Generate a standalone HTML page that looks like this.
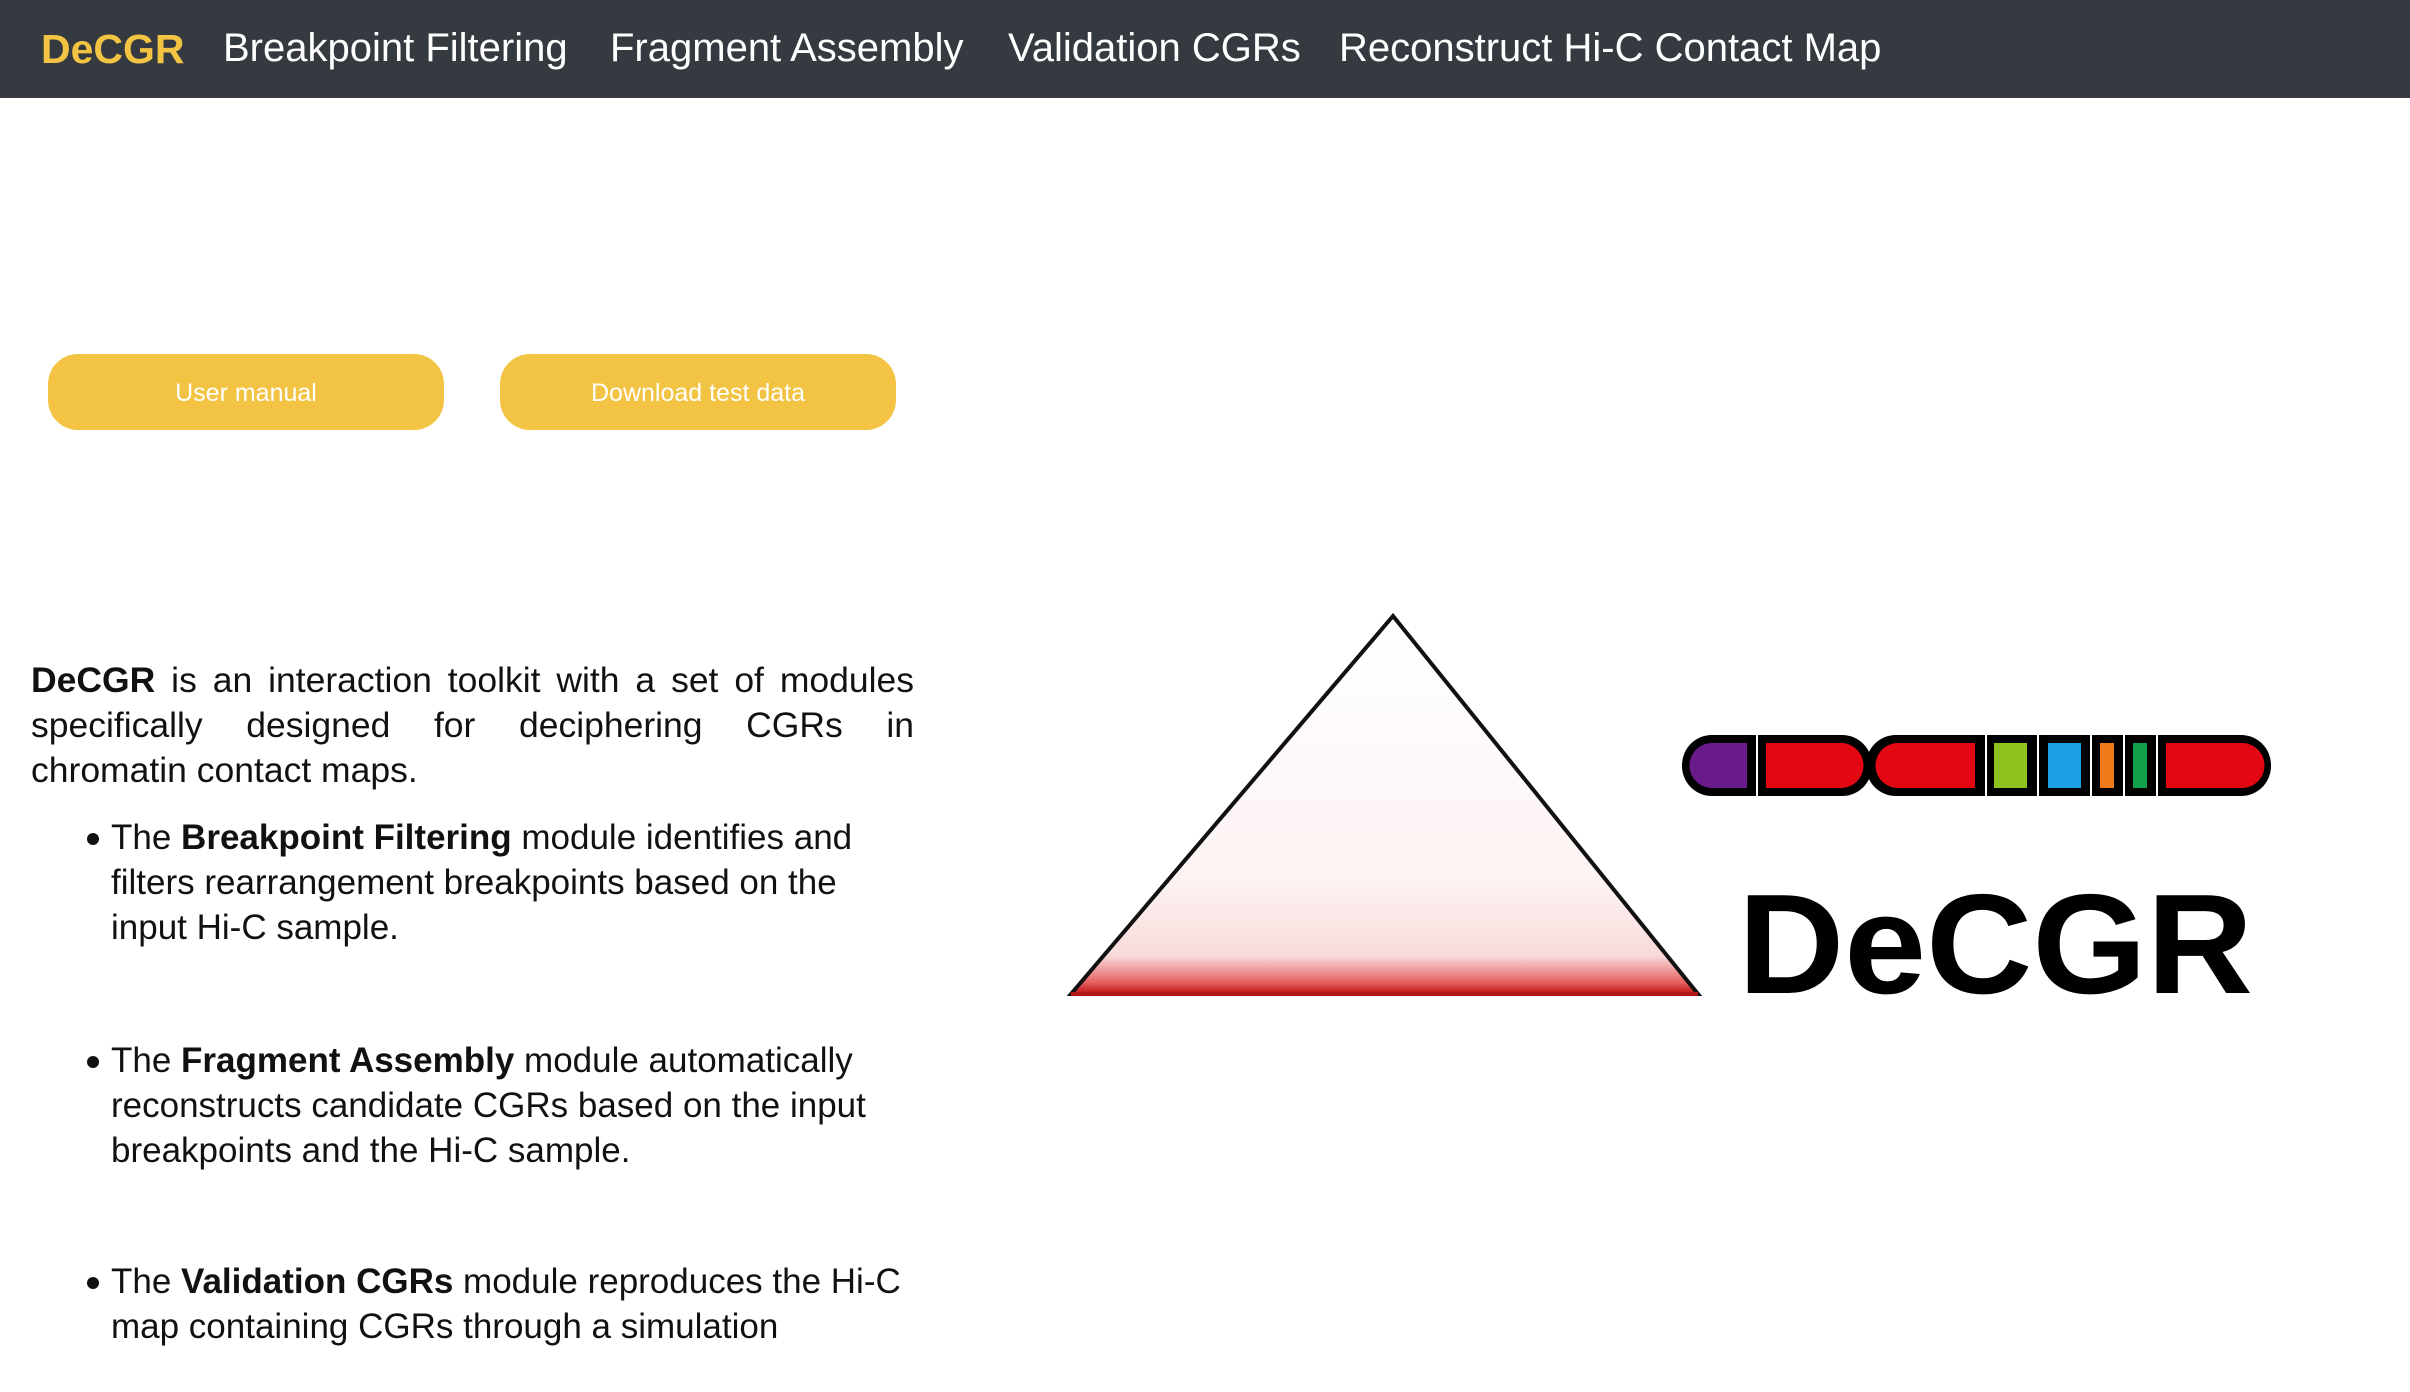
<!DOCTYPE html>
<html><head><meta charset="utf-8"><style>
*{margin:0;padding:0;box-sizing:border-box}
body{width:2410px;height:1392px;background:#fff;font-family:"Liberation Sans",sans-serif;position:relative;overflow:hidden;color:#111}
.nav{position:absolute;left:0;top:0;width:2410px;height:98px;background:#343a40}
.nav span{position:absolute;top:26px;font-size:40px;color:#fff;white-space:nowrap}
.nav .brand{color:#f3c343;font-weight:bold;font-size:41px;left:41px}
.btn{position:absolute;top:354px;height:76px;width:396px;background:#f3c343;border-radius:30px;color:#fff;font-size:25px;text-align:center;line-height:78px}
.p{position:absolute;left:31px;top:658px;width:883px;font-size:35.5px;line-height:45px}
.p .j{display:block;text-align:justify;text-align-last:justify;white-space:nowrap}
.li{position:absolute;left:111px;width:790px;font-size:35px;line-height:45px}
.li:before{content:"";position:absolute;left:-24px;top:18px;width:12px;height:12px;border-radius:50%;background:#111}
svg{position:absolute;left:0;top:0}
</style></head><body>
<div class="nav">
<span class="brand">DeCGR</span>
<span style="left:223px">Breakpoint Filtering</span>
<span style="left:610px">Fragment Assembly</span>
<span style="left:1008px">Validation CGRs</span>
<span style="left:1339px">Reconstruct Hi-C Contact Map</span>
</div>
<div class="btn" style="left:48px">User manual</div>
<div class="btn" style="left:500px">Download test data</div>
<div class="p"><span class="j"><b>DeCGR</b> is an interaction toolkit with a set of modules</span><span class="j">specifically designed for deciphering CGRs in</span>chromatin contact maps.</div>
<div class="li" style="top:815px">The <b>Breakpoint Filtering</b> module identifies and filters rearrangement breakpoints based on the input Hi-C sample.</div>
<div class="li" style="top:1038px">The <b>Fragment Assembly</b> module automatically reconstructs candidate CGRs based on the input breakpoints and the Hi-C sample.</div>
<div class="li" style="top:1259px">The <b>Validation CGRs</b> module reproduces the Hi-C map containing CGRs through a simulation</div>
<svg width="2410" height="1392">
<defs>
<linearGradient id="tg" x1="0" y1="0" x2="0" y2="1">
<stop offset="0" stop-color="#fff"/><stop offset="0.7" stop-color="#fdf3f3"/><stop offset="0.9" stop-color="#f8dada"/><stop offset="0.97" stop-color="#e46060"/><stop offset="1" stop-color="#c01010"/>
</linearGradient>
</defs>
<polygon points="1393,616 1071,994 1698,994" fill="url(#tg)" stroke="#111" stroke-width="4"/>
<line x1="1071" y1="994" x2="1698" y2="994" stroke="#b01818" stroke-width="4"/>
<rect x="1682" y="735" width="190" height="61" rx="30" fill="#000"/>
<rect x="1866" y="735" width="405" height="61" rx="30" fill="#000"/>
<path d="M1712,743 H1747 V788 H1712 A22,22 0 0 1 1712,743Z" fill="#6a1b8a"/>
<path d="M1766,743 H1841 A22,22 0 0 1 1841,788 H1766Z" fill="#e30613"/>
<path d="M1898,743 H1975 V788 H1898 A22,22 0 0 1 1898,743Z" fill="#e30613"/>
<rect x="1994" y="743" width="33" height="45" fill="#8dc21f"/>
<rect x="2048" y="743" width="33" height="45" fill="#1ea0e6"/>
<rect x="2100" y="743" width="14" height="45" fill="#ee7a1a"/>
<rect x="2133" y="743" width="14" height="45" fill="#13a04a"/>
<path d="M2166,743 H2242 A22,22 0 0 1 2242,788 H2166Z" fill="#e30613"/>
<g stroke="#fff" stroke-width="2">
<line x1="1757" y1="735" x2="1757" y2="796"/><line x1="1986" y1="735" x2="1986" y2="796"/><line x1="2038" y1="735" x2="2038" y2="796"/><line x1="2091" y1="735" x2="2091" y2="796"/><line x1="2124" y1="735" x2="2124" y2="796"/><line x1="2157" y1="735" x2="2157" y2="796"/>
</g>
<text x="1738" y="993" font-family="Liberation Sans" font-weight="bold" font-size="142" textLength="515" lengthAdjust="spacingAndGlyphs" fill="#000">DeCGR</text>
</svg>
</body></html>
